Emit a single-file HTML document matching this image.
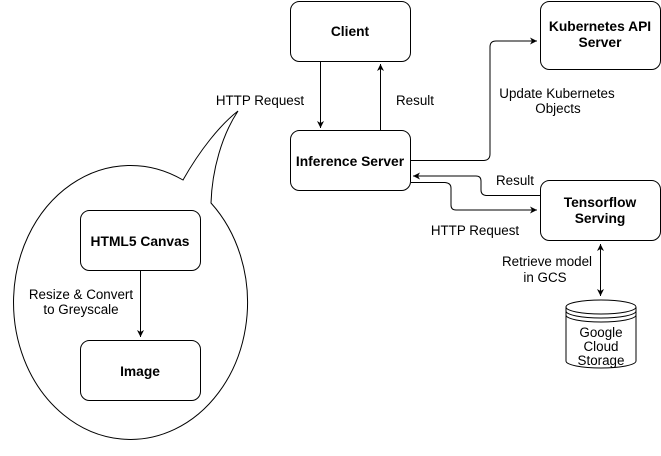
<!DOCTYPE html>
<html><head><style>body{margin:0;background:#fff}</style></head><body>
<svg width="661" height="451" xmlns="http://www.w3.org/2000/svg" font-family="Liberation Sans, Arial, sans-serif" font-size="13.4">
<defs><marker id="a" markerWidth="8" markerHeight="8" refX="7" refY="4" orient="auto" markerUnits="userSpaceOnUse"><path d="M0,0.5 L7,4 L0,7.5 L2,4 Z" fill="#000"/></marker>
<marker id="b" markerWidth="8" markerHeight="8" refX="1" refY="4" orient="auto" markerUnits="userSpaceOnUse"><path d="M8,0.5 L1,4 L8,7.5 L6,4 Z" fill="#000"/></marker></defs>
<g fill="none" stroke="#000" stroke-width="1">
<path d="M183,180 C200,150 220,125 238,111 C222,135 212,170 211,203 A117,137 0 1 1 183,180 Z" fill="#fff"/>
<rect x="290.5" y="1.5" width="120" height="60" rx="9"/>
<rect x="540.5" y="1.5" width="120" height="68" rx="9"/>
<rect x="290.5" y="130.5" width="120" height="60" rx="9"/>
<rect x="540.5" y="180.5" width="120" height="60" rx="9"/>
<rect x="80.5" y="210.5" width="120" height="60" rx="9"/>
<rect x="80.5" y="340.5" width="120" height="60" rx="9"/>
<path d="M566,307 v54 a35,7 0 0 0 70,0 v-54"/>
<ellipse cx="601" cy="307" rx="35" ry="7" fill="#fff"/>
<path d="M566,311 a35,7 0 0 0 70,0 M566,315 a35,7 0 0 0 70,0"/>
<path d="M140.5,271 V337" marker-end="url(#a)"/>
<path d="M320.5,62 V128" marker-end="url(#a)"/>
<path d="M380.5,130 V64" marker-end="url(#a)"/>
<path d="M411,160.5 H484 Q490,160 490,154 V47 Q490,41 496,41 H537" marker-end="url(#a)"/>
<path d="M540,195.5 H486 Q481,195 481,190 V181 Q481,176 476,176 H413" marker-end="url(#a)"/>
<path d="M411,182.5 H445 Q451,183 451,188 V205 Q451,210 456,210 H537" marker-end="url(#a)"/>
<path d="M600.5,244 V296" marker-start="url(#b)" marker-end="url(#a)"/>
</g>
<g text-anchor="middle" font-weight="bold" font-size="13.8">
<text x="350" y="36">Client</text>
<text x="600" y="31">Kubernetes API</text><text x="600" y="47">Server</text>
<text x="350" y="166">Inference Server</text>
<text x="600" y="207">Tensorflow</text><text x="600" y="223">Serving</text>
<text x="140" y="246">HTML5 Canvas</text>
<text x="140" y="376">Image</text>
</g>
<g text-anchor="middle">
<text x="260" y="105">HTTP Request</text>
<text x="415" y="105">Result</text>
<text x="557" y="98">Update Kubernetes</text><text x="558" y="113">Objects</text>
<text x="515" y="185">Result</text>
<text x="475" y="235">HTTP Request</text>
<text x="547" y="266">Retrieve model</text><text x="545" y="282">in GCS</text>
<text x="81" y="299">Resize &amp; Convert</text><text x="81" y="314">to Greyscale</text>
<text x="601" y="337">Google</text><text x="601" y="351">Cloud</text><text x="601" y="365">Storage</text>
</g>
</svg>
</body></html>
